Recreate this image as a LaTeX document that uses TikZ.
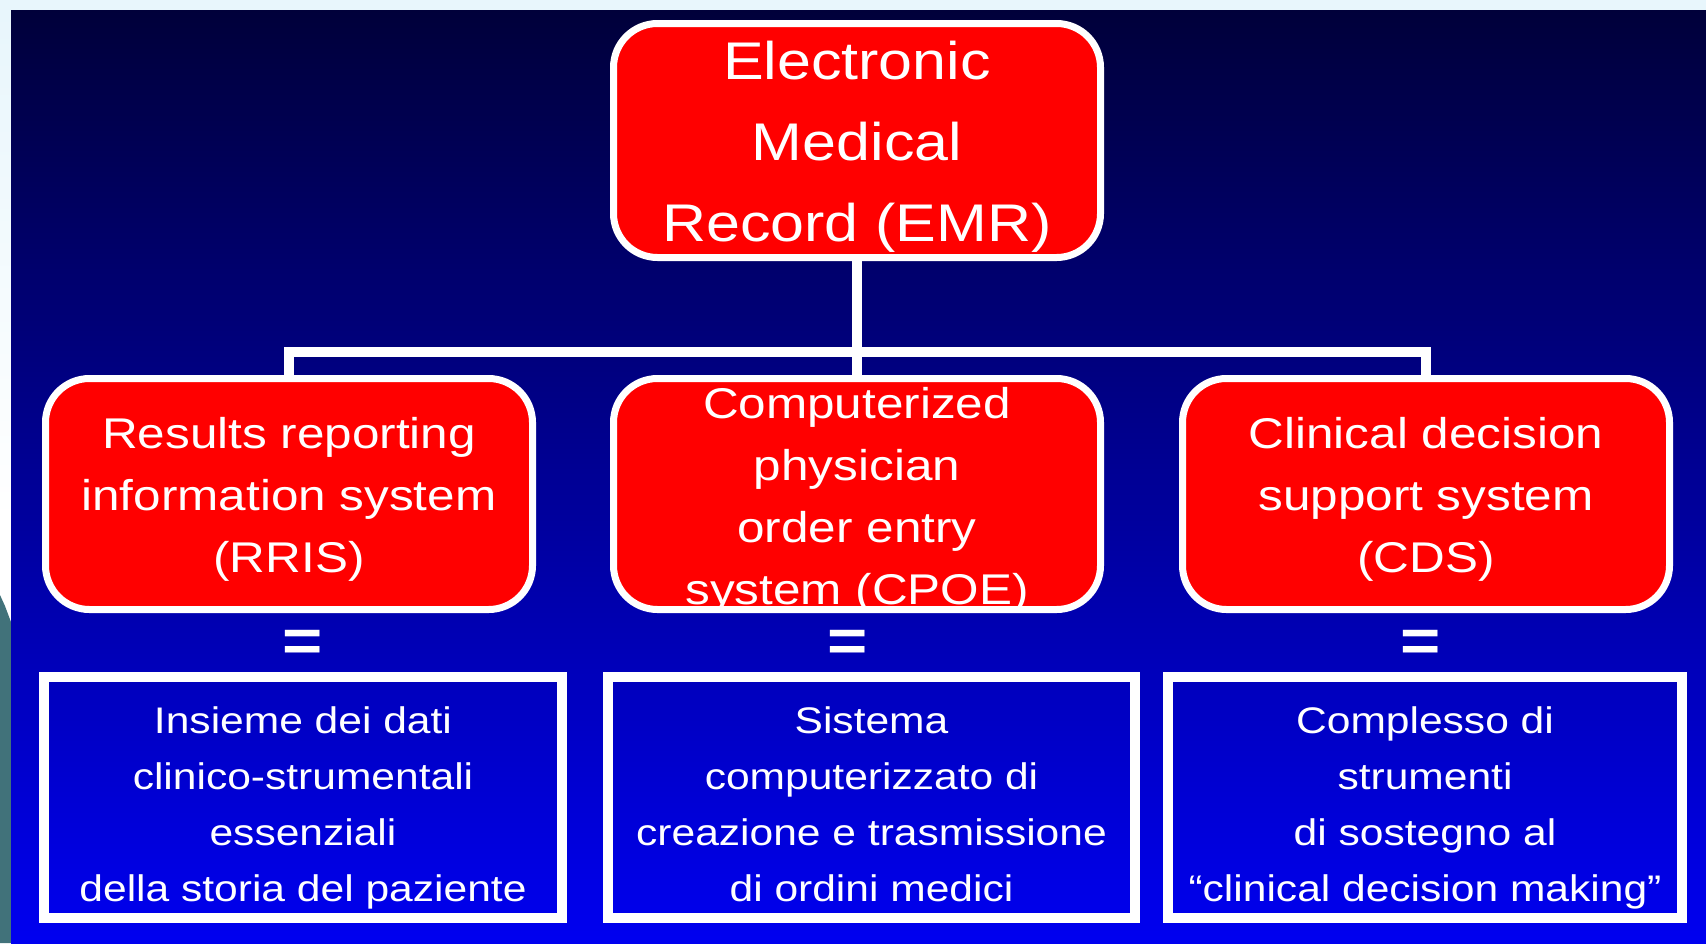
\documentclass[tikz,border=0pt]{standalone}
\usepackage{fontspec}
\setmainfont{Liberation Sans}[FakeStretch=1.15]
\usepackage{tikz}
\definecolor{emrred}{RGB}{255,0,0}
\definecolor{navytop}{RGB}{0,0,58}
\definecolor{bluebot}{RGB}{0,0,240}
\definecolor{paleedge}{RGB}{232,246,252}
\definecolor{tealedge}{RGB}{65,114,122}
\newcommand{\lowtext}[2]{\raisebox{\dimexpr-#1-0.25em\relax}[0pt][0pt]{\begin{tabular}{@{}c@{}}#2\end{tabular}}}
\tikzset{
  redbox/.style={draw=white,line width=3.5pt,fill=emrred,rounded corners=22pt,text=white,align=center,
    minimum width=243.5pt,minimum height=115.5pt,inner sep=0pt,font=\fontsize{21.5}{31}\selectfont},
  bluebox/.style={draw=white,line width=5pt,text=white,align=center,minimum height=120.5pt,inner sep=0pt,
    font=\fontsize{18.5}{28}\selectfont},
  eqsign/.style={text=white,inner sep=0pt,font=\fontsize{30}{30}\selectfont\bfseries},
  link/.style={draw=white,line width=5pt}
}
\begin{document}
\begin{tikzpicture}[x=0.5pt,y=-0.5pt]
\useasboundingbox (0,0) rectangle (1706,943);
\fill[paleedge] (0,0) rectangle (1706,10);
\fill[white] (0,10) rectangle (11,943);
\shade[top color=paleedge,bottom color=white] (0,10) rectangle (11,520);
\fill[tealedge] (0,595) -- (5,606) -- (11,622) -- (11,943) -- (0,943) -- cycle;
\shade[top color=navytop,bottom color=bluebot] (11,10) rectangle (1706,943);
%
\node[redbox,minimum height=117pt,font=\fontsize{26.5}{40.5}\selectfont] (emr) at (857,140.5) {\lowtext{1.7pt}{Electronic\\Medical\\Record (EMR)}};
\node[redbox] (rris) at (289,494) {\lowtext{1.7pt}{Results reporting\\information system\\(RRIS)}};
\node[redbox] (cpoe) at (857,494) {\lowtext{2.2pt}{Computerized\\physician\\order entry\\system (CPOE)}};
\node[redbox] (cds) at (1426,494) {\lowtext{1.7pt}{Clinical decision\\support system\\(CDS)}};
\coordinate (bus) at (857,352);
\draw[link] (emr.south) -- (bus);
\draw[link] (rris.north) |- (bus) -| (cds.north);
\draw[link] (bus) -- (cpoe.north);
%
\node[eqsign] (eqrris) at (303,646) {=};
\node[eqsign] (eqcpoe) at (848,646) {=};
\node[eqsign] (eqcds) at (1421,646) {=};
\node[bluebox,minimum width=259pt] (dati) at (303,797.5) {\lowtext{4.3pt}{Insieme dei dati\\clinico-strumentali\\essenziali\\della storia del paziente}};
\node[bluebox,minimum width=263.5pt] (ordini) at (871.5,797.5) {\lowtext{4.3pt}{Sistema\\computerizzato di\\creazione e trasmissione\\di ordini medici}};
\node[bluebox,minimum width=257pt] (strumenti) at (1425,797.5) {\lowtext{4.3pt}{Complesso di\\strumenti\\di sostegno al\\“clinical decision making”}};
\end{tikzpicture}
\end{document}
